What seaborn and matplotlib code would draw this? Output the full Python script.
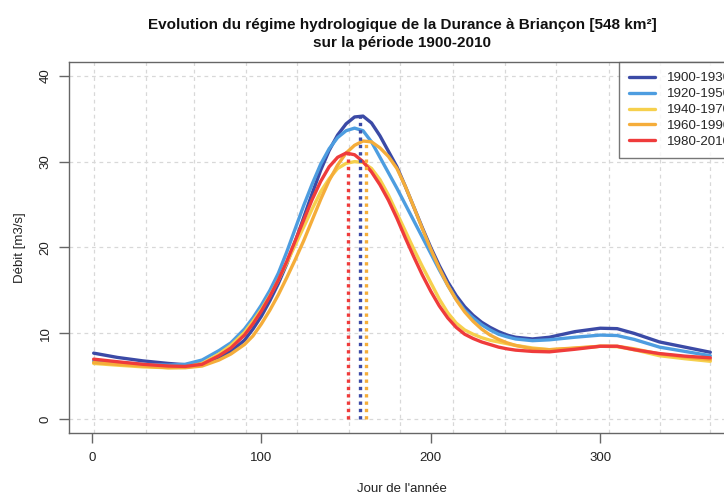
import matplotlib
matplotlib.use("Agg")
import pandas as pd
import matplotlib.pyplot as plt
import seaborn as sns

# jours de l'année où les débits ont été lus
jours = [1, 15, 30, 45, 55, 65, 75, 82,
         90, 95, 100, 105, 110, 115, 120, 125, 130, 135, 140, 145, 150, 155, 160,
         165, 170, 175, 180, 185, 190, 195, 200, 205, 210, 215, 220, 225, 230,
         235, 240, 245, 250,
         260, 270, 285, 300, 310, 320, 335, 350, 365]

debit_1900_1930 = [7.7, 7.2, 6.8, 6.5, 6.35, 6.5, 7.2, 7.9,
                   9.2, 10.5, 12.0, 13.8, 15.8, 18.1, 20.7, 23.5, 26.3, 29.0, 31.3,
                   33.1, 34.4, 35.2, 35.3, 34.5, 33.0, 31.2, 29.4, 27.1, 24.7, 22.3,
                   20.0, 17.9, 16.0, 14.4, 13.1, 12.1, 11.3, 10.7, 10.2, 9.8, 9.55,
                   9.35, 9.55, 10.2, 10.6, 10.55, 10.0, 9.0, 8.4, 7.8]
debit_1920_1950 = [6.8, 6.6, 6.4, 6.3, 6.4, 6.9, 8.0, 8.9,
                   10.5, 11.8, 13.3, 15.0, 17.0, 19.5, 22.2, 24.9, 27.4, 29.7, 31.5,
                   32.8, 33.6, 33.9, 33.6, 32.3, 30.5, 28.7, 26.9, 25.0, 23.1, 21.2,
                   19.3, 17.4, 15.6, 14.0, 12.7, 11.8, 11.0, 10.4, 9.9, 9.6, 9.35,
                   9.15, 9.25, 9.55, 9.8, 9.75, 9.3, 8.4, 7.9, 7.4]
debit_1940_1970 = [6.5, 6.3, 6.1, 6.0, 6.05, 6.5, 7.6, 8.6,
                   10.1, 11.4, 12.8, 14.4, 16.2, 18.2, 20.3, 22.4, 24.5, 26.5, 28.0,
                   29.2, 29.8, 30.0, 29.9, 29.2, 27.9, 26.1, 24.0, 21.9, 19.8, 17.8,
                   15.9, 14.0, 12.4, 11.2, 10.4, 9.9, 9.5, 9.2, 9.0, 8.8, 8.6,
                   8.3, 8.1, 8.25, 8.5, 8.45, 8.1, 7.4, 7.05, 6.75]
debit_1960_1990 = [6.6, 6.4, 6.2, 6.0, 6.0, 6.2, 6.9, 7.6,
                   8.7, 9.7, 11.1, 12.7, 14.5, 16.5, 18.6, 20.8, 23.2, 25.6, 27.8,
                   29.6, 31.0, 31.9, 32.4, 32.3, 31.6, 30.6, 29.2, 27.1, 24.7, 22.2,
                   19.8, 17.6, 15.6, 13.9, 12.5, 11.4, 10.5, 9.8, 9.3, 8.9, 8.6,
                   8.2, 8.1, 8.3, 8.5, 8.5, 8.2, 7.6, 7.25, 6.95]
debit_1980_2010 = [7.0, 6.7, 6.4, 6.2, 6.15, 6.4, 7.4, 8.3,
                   9.8, 11.1, 12.6, 14.3, 16.2, 18.4, 20.8, 23.2, 25.6, 27.7, 29.4,
                   30.5, 31.0, 30.8, 30.0, 28.8, 27.3, 25.5, 23.4, 21.1, 18.9, 16.8,
                   14.9, 13.2, 11.8, 10.7, 9.9, 9.4, 9.0, 8.7, 8.4, 8.2, 8.05,
                   7.9, 7.85, 8.15, 8.5, 8.5, 8.1, 7.65, 7.35, 7.15]

periodes = ["1900-1930", "1920-1950", "1940-1970", "1960-1990", "1980-2010"]
series = [debit_1900_1930, debit_1920_1950, debit_1940_1970, debit_1960_1990, debit_1980_2010]
couleurs = ["#3b4aa6", "#4d9de0", "#f6d04d", "#f5ad3a", "#ef3b3b"]

# pics marqués en pointillés
pic_periodes = ["1900-1930", "1980-2010", "1960-1990"]
pic_jours = [158, 151, 162]
pic_debits = [35.4, 31.0, 32.4]

debuts_mois = [1, 32, 60, 91, 121, 152, 182, 213, 244, 274, 305, 335, 365]

sns.set_style("white")
plt.rcParams["font.family"] = ["Liberation Sans", "DejaVu Sans"]

df = pd.concat(
    [pd.DataFrame({"jour": jours, "debit": s, "periode": p}) for p, s in zip(periodes, series)],
    ignore_index=True,
)
palette = dict(zip(periodes, couleurs))

fig = plt.figure(figsize=(7.24, 4.94), dpi=100)
ax = fig.add_axes([69 / 724, 61 / 494, 666 / 724, 371 / 494])

# grille : mois en vertical, 10 m3/s en horizontal
for d in debuts_mois:
    ax.axvline(d, color="#d8d8d8", lw=0.9, ls=(0, (3, 3)), zorder=0)
for v in range(0, 41, 10):
    ax.axhline(v, color="#d8d8d8", lw=0.9, ls=(0, (3, 3)), zorder=0)

sns.lineplot(data=df, x="jour", y="debit", hue="periode", hue_order=periodes,
             palette=palette, linewidth=2.4, estimator=None, sort=False, ax=ax)

for p, j, q in zip(pic_periodes, pic_jours, pic_debits):
    ax.vlines(j, 0, q, colors=palette[p], linewidth=2.4, linestyles=(0, (1, 1.2)), zorder=3)

ax.set_xlim(1 - 0.04 * 364, 365 + 0.04 * 364)
ax.set_ylim(-1.6, 41.6)
ax.set_xticks([0, 100, 200, 300])
ax.set_yticks([0, 10, 20, 30, 40])
for lab in ax.get_yticklabels():
    lab.set_rotation(90)
    lab.set_verticalalignment("center")
ax.tick_params(direction="out", length=7, width=1, color="#666666", bottom=True, left=True,
               labelsize=9.5, labelcolor="#222222")
ax.tick_params(axis="x", pad=7)
ax.tick_params(axis="y", pad=5.5)
for sp in ax.spines.values():
    sp.set_color("#666666")
    sp.set_linewidth(1)

ax.set_xlabel("Jour de l'année", fontsize=9.5, color="#222222")
ax.set_ylabel("Débit [m3/s]", fontsize=9.5, color="#222222")
ax.xaxis.set_label_coords(0.5, -0.136)
ax.yaxis.set_label_coords(-0.064, 0.5)

ax.set_title("Evolution du régime hydrologique de la Durance à Briançon [548 km²]\n"
             "sur la période 1900-2010",
             fontsize=11, fontweight="bold", color="#111111", pad=11, linespacing=1.3)

handles, labels = ax.get_legend_handles_labels()
ax.legend(handles, labels, loc="upper right", bbox_to_anchor=(1 + 6 / 666, 1), borderaxespad=0,
          frameon=True, fancybox=False, edgecolor="#555555", fontsize=9.6,
          handlelength=2.0, handletextpad=0.85, labelspacing=0.27, borderpad=0.75)
ax.get_legend().get_frame().set_linewidth(1)

fig.savefig("out.png", dpi=100)
